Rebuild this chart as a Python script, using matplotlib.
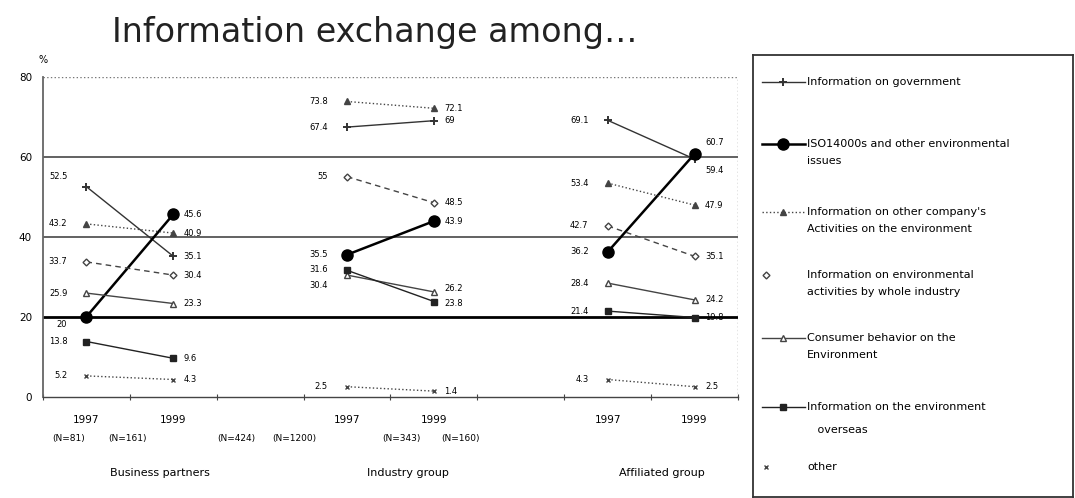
import matplotlib
matplotlib.use("Agg")
import matplotlib.pyplot as plt

# positions of the six columns (two years for each of three groups)
x_pos = [0, 1, 3, 4, 6, 7]
year_labels = ["1997", "1999", "1997", "1999", "1997", "1999"]
n_labels = ["(N=81)", "(N=161)", "(N=424)", "(N=1200)", "(N=343)", "(N=160)"]
n_label_x = [-0.2, 0.47, 1.72, 2.39, 3.63, 4.31]
groups = ["Business partners", "Industry group", "Affiliated group"]
group_x = [0.85, 3.7, 6.62]

gov = [52.5, 35.1, 67.4, 69.0, 69.1, 59.4]
iso = [20.0, 45.6, 35.5, 43.9, 36.2, 60.7]
other_co = [43.2, 40.9, 73.8, 72.1, 53.4, 47.9]
industry = [33.7, 30.4, 55.0, 48.5, 42.7, 35.1]
consumer = [25.9, 23.3, 30.4, 26.2, 28.4, 24.2]
overseas = [13.8, 9.6, 31.6, 23.8, 21.4, 19.8]
other = [5.2, 4.3, 2.5, 1.4, 4.3, 2.5]

series = [
    ("Information on government", gov,
     dict(color="#333333", lw=1.0, ls="-", marker="+", ms=6, mew=1.4)),
    ("ISO14000s and other environmental\nissues", iso,
     dict(color="black", lw=1.8, ls="-", marker="o", ms=8)),
    ("Information on other company's\nActivities on the environment", other_co,
     dict(color="#444444", lw=1.0, ls=":", marker="^", ms=4)),
    ("Information on environmental\nactivities by whole industry", industry,
     dict(color="#444444", lw=1.0, ls=(0, (4, 3)), marker="D", ms=3.5, mfc="white")),
    ("Consumer behavior on the\nEnvironment", consumer,
     dict(color="#444444", lw=1.0, ls="-", marker="^", ms=4, mfc="white")),
    ("Information on the environment\n   overseas", overseas,
     dict(color="#222222", lw=1.0, ls="-", marker="s", ms=4)),
    ("other", other,
     dict(color="#444444", lw=1.0, ls=":", marker="x", ms=3.5)),
]

# small vertical nudges for crowded value labels (series index, column index)
nudge = {(1, 5): 2.8, (0, 5): -2.8, (4, 3): 0.8, (5, 3): -0.6,
         (4, 2): -2.5, (5, 2): 0.3, (0, 0): 2.5, (1, 0): -2.0}

fig = plt.figure(figsize=(10.75, 4.98), dpi=100)
plt.rcParams['font.family'] = ['DejaVu Sans']

fig.text(0.104, 0.935, "Information exchange among…", fontsize=24,
         ha="left", va="center", color="#222222")

ax = fig.add_axes([0.040, 0.2034, 0.6465, 0.6426])
ax.set_xlim(-0.5, 7.5)
ax.set_ylim(0, 80)

ax.axhline(60, color="#555555", lw=1.3)
ax.axhline(40, color="#555555", lw=1.3)
ax.axhline(20, color="black", lw=2.0)
ax.axhline(80, color="#777777", lw=1.0, ls=":")
ax.axvline(7.5, color="#777777", lw=1.0, ls=":")

for si, (name, vals, st) in enumerate(series):
    for g in range(3):
        xs = x_pos[2 * g:2 * g + 2]
        ys = vals[2 * g:2 * g + 2]
        ax.plot(xs, ys, zorder=3, **st)
        for k in range(2):
            idx = 2 * g + k
            dy = nudge.get((si, idx), 0)
            if k == 0:
                ax.text(xs[k] - 0.22, ys[k] + dy, f"{ys[k]:g}", fontsize=6,
                        ha="right", va="center")
            else:
                ax.text(xs[k] + 0.12, ys[k] + dy, f"{ys[k]:g}", fontsize=6,
                        ha="left", va="center")

for sp in ["top", "right"]:
    ax.spines[sp].set_visible(False)
ax.spines["left"].set_color("#666666")
ax.spines["left"].set_linewidth(1.3)
ax.spines["bottom"].set_color("#444444")
ax.spines["bottom"].set_linewidth(1.0)

ax.set_xticks([i - 0.5 for i in range(9)])
ax.set_xticklabels([])
ax.tick_params(axis="x", direction="inout", length=5, color="#444444")
ax.set_yticks([0, 20, 40, 60, 80])
ax.tick_params(axis="y", length=0, labelsize=7.5, pad=8)
ax.text(-0.5, 83, "%", fontsize=7, ha="center", va="bottom")

for x, lab in zip(x_pos, year_labels):
    ax.text(x, -4.5, lab, fontsize=7.5, ha="center", va="top", clip_on=False)
for x, lab in zip(n_label_x, n_labels):
    ax.text(x, -9.3, lab, fontsize=6.5, ha="center", va="top", clip_on=False)
for x, lab in zip(group_x, groups):
    ax.text(x, -19.0, lab, fontsize=8, ha="center", va="center", clip_on=False)

# legend box drawn by hand to follow the reference spacing
lg = fig.add_axes([753 / 1075, 1 / 498, 320 / 1075, 442 / 498])
lg.set_xlim(753, 1073)
lg.set_ylim(497, 55)
lg.set_xticks([])
lg.set_yticks([])
for sp in lg.spines.values():
    sp.set_color("#333333")
    sp.set_linewidth(1.3)

legend_y = [82, 144, 212, 275, 338, 407, 467]
marker_only = {3, 6}
for si, ((name, vals, st), y) in enumerate(zip(series, legend_y)):
    h = dict(st)
    if si in marker_only:
        lg.plot([766], [y], ls="none", **{k: v for k, v in h.items() if k not in ("ls", "lw")})
    else:
        lg.plot([762, 805], [y, y], ls=h.pop("ls"), lw=h.pop("lw"), color=h.pop("color"))
        lg.plot([783], [y], ls="none", color=st["color"],
                **{k: v for k, v in h.items()})
    lines = name.split("\n")
    for j, t in enumerate(lines):
        dy = 17 if j == 1 else 0
        if si == 5 and j == 1:
            dy = 23
        lg.text(807, y + dy, t, fontsize=8, ha="left", va="center")

fig.savefig("out.png", dpi=100)
